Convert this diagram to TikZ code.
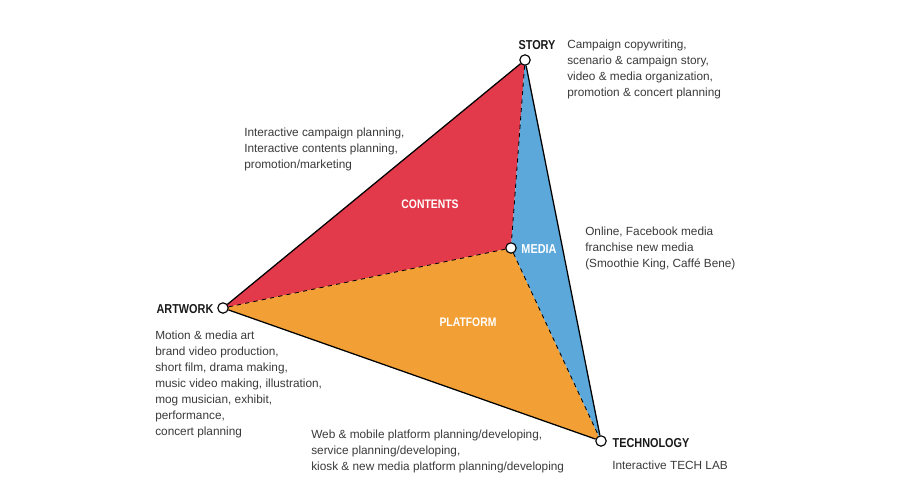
\documentclass[tikz,border=0pt]{standalone}
\usepackage{fontspec}
\setmainfont{Liberation Sans}
\newfontfamily\tagfont[FakeStretch=0.84]{Liberation Sans Bold}
\usetikzlibrary{positioning,backgrounds}
\definecolor{pContents}{RGB}{226,58,74}
\definecolor{pPlatform}{RGB}{242,160,53}
\definecolor{pMedia}   {RGB}{ 92,168,219}
\definecolor{pText}    {RGB}{ 58, 58, 58}
\definecolor{pLabel}   {RGB}{ 25, 25, 25}

\begin{document}
\begin{tikzpicture}[x=0.025cm, y=-0.025cm]

% ---------------------------------------------------------------- styles
\tikzset{
  vtx/.style   = {circle, draw=black, fill=white, line width=0.8pt,
                  minimum size=0.26cm, inner sep=0pt},
  lbl/.style   = {font=\tagfont\fontsize{9.2}{10}\selectfont, text=pLabel, inner sep=0pt},
  area/.style  = {font=\tagfont\fontsize{8.8}{10}\selectfont, text=white, inner sep=0pt},
  desc/.style  = {font=\fontsize{8.4}{11.3}\selectfont, text=pText,
                  align=left, inner sep=0pt, anchor=north west},
  edge/.style  = {draw=black, line width=0.9pt},
  split/.style = {draw=black, dashed, line width=0.6pt},
}
\useasboundingbox (0,0) rectangle (900,480);

% ---------------------------------------------------------------- vertices
\node[vtx] (story)  at (525,60)  {};
\node[vtx] (art)    at (223,308) {};
\node[vtx] (tech)   at (601,441) {};
\node[vtx] (media)  at (511,248) {};

% ---------------------------------------------------------------- faces
\begin{scope}[on background layer]
  \fill[pContents] (art.center) -- (story.center) -- (media.center) -- cycle;
  \fill[pPlatform] (art.center) -- (media.center) -- (tech.center) -- cycle;
  \fill[pMedia]    (story.center) -- (media.center) -- (tech.center) -- cycle;
\end{scope}

% ---------------------------------------------------------------- edges
\draw[edge]  (story) -- (art);
\draw[edge]  (art)   -- (tech);
\draw[edge]  (tech)  -- (story);
\draw[split] (story) -- (media);
\draw[split] (art)   -- (media);
\draw[split] (media) -- (tech);

% ---------------------------------------------------------------- labels
\node[lbl] (storyL) at (537,45)  {STORY};
\node[lbl] (artL)   at (185,309) {ARTWORK};
\node[lbl] (techL)  at (651,443) {TECHNOLOGY};
\node[lbl, text=white] (mediaL) at (539,249) {MEDIA};
\node[area] (contL) at (430,204) {CONTENTS};
\node[area] (platL) at (468,322) {PLATFORM};

% ---------------------------------------------------------------- notes
\node[desc] (storyD) at (567,40)
  {Campaign copywriting,\\ scenario \& campaign story,\\
   video \& media organization,\\ promotion \& concert planning};
\node[desc] (contD) at (244,128)
  {Interactive campaign planning,\\ Interactive contents planning,\\
   promotion/marketing};
\node[desc] (mediaD) at (585,227)
  {Online, Facebook media\\ franchise new media\\
   (Smoothie King, Caff\'e Bene)};
\node[desc] (artD) at (155,331)
  {Motion \& media art\\ brand video production,\\ short film, drama making,\\
   music video making, illustration,\\ mog musician, exhibit,\\
   performance,\\ concert planning};
\node[desc] (platD) at (311,430)
  {Web \& mobile platform planning/developing,\\ service planning/developing,\\
   kiosk \& new media platform planning/developing};
\node[desc] (techD) at (612,461) {Interactive TECH LAB};

\end{tikzpicture}
\end{document}
